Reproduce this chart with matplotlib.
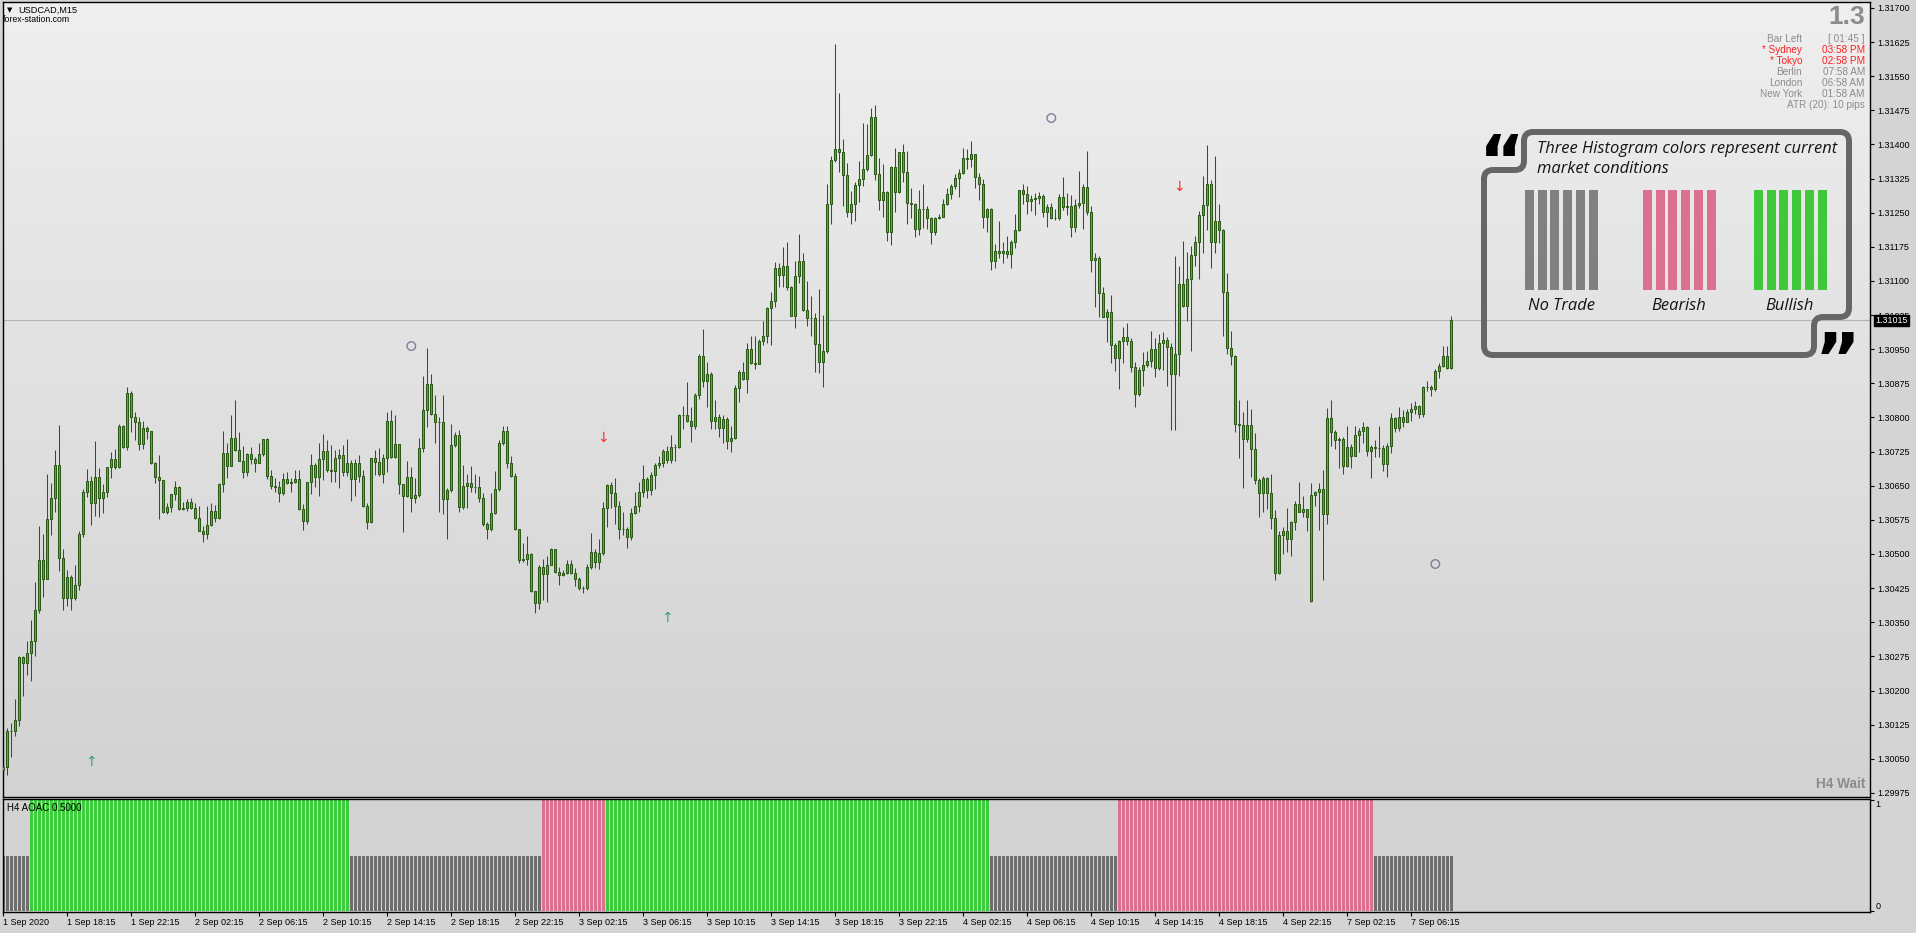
import numpy as np
import matplotlib
matplotlib.use("Agg")
import matplotlib.pyplot as plt
from matplotlib.path import Path
from matplotlib.patches import PathPatch, Rectangle
from matplotlib.colors import LinearSegmentedColormap

plt.rcParams["font.family"] = ["Liberation Sans", "DejaVu Sans"]

# ---- data (USDCAD M15) ----
first_open = 1.30026
gap_opens = {327: 1.30397}

closes = [
    1.30033, 1.30111, 1.30111, 1.30135, 1.30273, 1.30260, 1.30283, 1.30308, 1.30377, 1.30487,
    1.30445, 1.30576, 1.30623, 1.30695, 1.30492, 1.30404, 1.30449, 1.30403, 1.30431, 1.30544,
    1.30636, 1.30660, 1.30612, 1.30669, 1.30622, 1.30636, 1.30691, 1.30708, 1.30692, 1.30781,
    1.30735, 1.30853, 1.30800, 1.30791, 1.30741, 1.30776, 1.30771, 1.30701, 1.30670, 1.30662,
    1.30593, 1.30603, 1.30631, 1.30647, 1.30598, 1.30600, 1.30614, 1.30602, 1.30579, 1.30551,
    1.30543, 1.30563, 1.30594, 1.30580, 1.30653, 1.30721, 1.30694, 1.30754, 1.30729, 1.30705,
    1.30680, 1.30720, 1.30708, 1.30701, 1.30720, 1.30752, 1.30672, 1.30650, 1.30648, 1.30633,
    1.30664, 1.30657, 1.30658, 1.30664, 1.30598, 1.30573, 1.30658, 1.30696, 1.30670, 1.30708,
    1.30727, 1.30685, 1.30683, 1.30710, 1.30718, 1.30681, 1.30699, 1.30664, 1.30699, 1.30672,
    1.30606, 1.30570, 1.30710, 1.30702, 1.30675, 1.30710, 1.30792, 1.30714, 1.30741, 1.30653,
    1.30628, 1.30669, 1.30623, 1.30629, 1.30732, 1.30817, 1.30873, 1.30807, 1.30791, 1.30790,
    1.30620, 1.30641, 1.30740, 1.30761, 1.30604, 1.30650, 1.30655, 1.30647, 1.30648, 1.30623,
    1.30565, 1.30554, 1.30590, 1.30642, 1.30743, 1.30771, 1.30699, 1.30672, 1.30555, 1.30487,
    1.30488, 1.30499, 1.30419, 1.30392, 1.30471, 1.30455, 1.30475, 1.30510, 1.30461, 1.30454,
    1.30459, 1.30477, 1.30459, 1.30445, 1.30425, 1.30426, 1.30471, 1.30504, 1.30483, 1.30502,
    1.30602, 1.30651, 1.30635, 1.30606, 1.30554, 1.30554, 1.30537, 1.30589, 1.30605, 1.30636,
    1.30665, 1.30641, 1.30673, 1.30695, 1.30701, 1.30726, 1.30707, 1.30735, 1.30736, 1.30806,
    1.30805, 1.30792, 1.30781, 1.30850, 1.30936, 1.30880, 1.30895, 1.30792, 1.30802, 1.30777,
    1.30796, 1.30748, 1.30754, 1.30864, 1.30899, 1.30884, 1.30951, 1.30920, 1.30918, 1.30969,
    1.30980, 1.31040, 1.31056, 1.31128, 1.31112, 1.31133, 1.31087, 1.31023, 1.31110, 1.31143,
    1.31036, 1.31019, 1.31019, 1.30961, 1.30922, 1.30946, 1.31269, 1.31365, 1.31391, 1.31383,
    1.31332, 1.31251, 1.31270, 1.31311, 1.31323, 1.31346, 1.31376, 1.31461, 1.31334, 1.31277,
    1.31296, 1.31207, 1.31350, 1.31295, 1.31383, 1.31339, 1.31271, 1.31269, 1.31214, 1.31258,
    1.31258, 1.31239, 1.31207, 1.31238, 1.31241, 1.31269, 1.31291, 1.31309, 1.31326, 1.31337,
    1.31370, 1.31369, 1.31378, 1.31329, 1.31313, 1.31241, 1.31258, 1.31143, 1.31166, 1.31161,
    1.31166, 1.31159, 1.31185, 1.31212, 1.31299, 1.31291, 1.31276, 1.31280, 1.31282, 1.31287,
    1.31251, 1.31262, 1.31239, 1.31239, 1.31284, 1.31262, 1.31265, 1.31218, 1.31266, 1.31271,
    1.31306, 1.31251, 1.31146, 1.31150, 1.31073, 1.31020, 1.31031, 1.30959, 1.30930, 1.30969,
    1.30976, 1.30967, 1.30910, 1.30851, 1.30905, 1.30916, 1.30924, 1.30950, 1.30908, 1.30963,
    1.30970, 1.30954, 1.30895, 1.30939, 1.31094, 1.31044, 1.31104, 1.31157, 1.31185, 1.31245,
    1.31267, 1.31313, 1.31185, 1.31232, 1.31212, 1.31075, 1.30952, 1.30934, 1.30785, 1.30784,
    1.30752, 1.30784, 1.30730, 1.30663, 1.30634, 1.30666, 1.30634, 1.30579, 1.30458, 1.30542,
    1.30551, 1.30532, 1.30570, 1.30610, 1.30593, 1.30598, 1.30582, 1.30630, 1.30636, 1.30643,
    1.30587, 1.30798, 1.30767, 1.30751, 1.30753, 1.30694, 1.30736, 1.30716, 1.30762, 1.30770,
    1.30778, 1.30727, 1.30735, 1.30734, 1.30734, 1.30697, 1.30738, 1.30798, 1.30776, 1.30801,
    1.30791, 1.30812, 1.30819, 1.30825, 1.30807, 1.30866, 1.30868, 1.30863, 1.30903, 1.30913,
    1.30936, 1.30908, 1.31015,
]

highs = [
    1.30095, 1.30117, 1.30128, 1.30181, 1.30276, 1.30276, 1.30308, 1.30355, 1.30439, 1.30562,
    1.30544, 1.30676, 1.30657, 1.30729, 1.30784, 1.30510, 1.30465, 1.30454, 1.30476, 1.30550,
    1.30643, 1.30687, 1.30672, 1.30749, 1.30688, 1.30653, 1.30692, 1.30724, 1.30731, 1.30786,
    1.30784, 1.30866, 1.30858, 1.30812, 1.30801, 1.30792, 1.30782, 1.30771, 1.30703, 1.30718,
    1.30663, 1.30613, 1.30632, 1.30661, 1.30650, 1.30614, 1.30620, 1.30623, 1.30613, 1.30606,
    1.30562, 1.30606, 1.30612, 1.30608, 1.30655, 1.30771, 1.30745, 1.30806, 1.30839, 1.30768,
    1.30738, 1.30721, 1.30735, 1.30713, 1.30743, 1.30753, 1.30754, 1.30685, 1.30666, 1.30661,
    1.30677, 1.30681, 1.30666, 1.30685, 1.30685, 1.30610, 1.30659, 1.30719, 1.30699, 1.30745,
    1.30764, 1.30751, 1.30740, 1.30729, 1.30731, 1.30740, 1.30753, 1.30707, 1.30708, 1.30717,
    1.30685, 1.30612, 1.30712, 1.30729, 1.30732, 1.30720, 1.30813, 1.30817, 1.30806, 1.30741,
    1.30653, 1.30705, 1.30692, 1.30668, 1.30754, 1.30891, 1.30952, 1.30895, 1.30850, 1.30800,
    1.30850, 1.30645, 1.30786, 1.30768, 1.30773, 1.30696, 1.30676, 1.30694, 1.30675, 1.30672,
    1.30634, 1.30571, 1.30634, 1.30683, 1.30751, 1.30781, 1.30781, 1.30716, 1.30677, 1.30554,
    1.30524, 1.30540, 1.30503, 1.30419, 1.30476, 1.30488, 1.30496, 1.30513, 1.30512, 1.30471,
    1.30464, 1.30487, 1.30487, 1.30470, 1.30449, 1.30430, 1.30477, 1.30546, 1.30512, 1.30533,
    1.30614, 1.30653, 1.30659, 1.30668, 1.30616, 1.30593, 1.30559, 1.30600, 1.30636, 1.30659,
    1.30695, 1.30670, 1.30680, 1.30701, 1.30716, 1.30731, 1.30738, 1.30762, 1.30742, 1.30807,
    1.30826, 1.30879, 1.30823, 1.30854, 1.30939, 1.30994, 1.30922, 1.30901, 1.30839, 1.30807,
    1.30806, 1.30802, 1.30782, 1.30872, 1.30905, 1.30922, 1.30964, 1.30978, 1.30978, 1.30972,
    1.31013, 1.31042, 1.31075, 1.31141, 1.31139, 1.31174, 1.31186, 1.31089, 1.31143, 1.31203,
    1.31161, 1.31099, 1.31066, 1.31030, 1.31083, 1.31026, 1.31314, 1.31375, 1.31621, 1.31514,
    1.31412, 1.31360, 1.31298, 1.31317, 1.31364, 1.31447, 1.31445, 1.31480, 1.31487, 1.31371,
    1.31356, 1.31298, 1.31353, 1.31393, 1.31384, 1.31401, 1.31386, 1.31304, 1.31272, 1.31300,
    1.31313, 1.31265, 1.31241, 1.31241, 1.31247, 1.31280, 1.31304, 1.31313, 1.31334, 1.31345,
    1.31393, 1.31390, 1.31408, 1.31379, 1.31337, 1.31324, 1.31260, 1.31260, 1.31181, 1.31232,
    1.31185, 1.31199, 1.31189, 1.31247, 1.31300, 1.31313, 1.31309, 1.31289, 1.31294, 1.31296,
    1.31291, 1.31269, 1.31272, 1.31258, 1.31291, 1.31329, 1.31294, 1.31289, 1.31280, 1.31342,
    1.31313, 1.31386, 1.31265, 1.31162, 1.31155, 1.31086, 1.31038, 1.31069, 1.30963, 1.30970,
    1.30998, 1.31007, 1.30974, 1.30923, 1.30912, 1.30943, 1.30946, 1.30990, 1.30974, 1.30983,
    1.30987, 1.30976, 1.30963, 1.31155, 1.31132, 1.31188, 1.31163, 1.31177, 1.31199, 1.31254,
    1.31331, 1.31399, 1.31322, 1.31375, 1.31269, 1.31214, 1.31117, 1.30990, 1.30938, 1.30839,
    1.30811, 1.30839, 1.30818, 1.30765, 1.30666, 1.30672, 1.30670, 1.30676, 1.30597, 1.30551,
    1.30559, 1.30602, 1.30573, 1.30617, 1.30659, 1.30628, 1.30598, 1.30657, 1.30639, 1.30657,
    1.30685, 1.30820, 1.30839, 1.30773, 1.30758, 1.30758, 1.30781, 1.30742, 1.30781, 1.30776,
    1.30790, 1.30781, 1.30740, 1.30751, 1.30781, 1.30740, 1.30743, 1.30809, 1.30802, 1.30824,
    1.30817, 1.30818, 1.30831, 1.30836, 1.30828, 1.30870, 1.30880, 1.30871, 1.30906, 1.30919,
    1.30957, 1.30957, 1.31023,
]

lows = [
    1.30011, 1.30015, 1.30053, 1.30099, 1.30122, 1.30188, 1.30234, 1.30221, 1.30275, 1.30371,
    1.30406, 1.30447, 1.30542, 1.30593, 1.30463, 1.30376, 1.30386, 1.30376, 1.30399, 1.30421,
    1.30538, 1.30626, 1.30564, 1.30584, 1.30582, 1.30591, 1.30626, 1.30668, 1.30686, 1.30690,
    1.30732, 1.30729, 1.30768, 1.30751, 1.30729, 1.30731, 1.30753, 1.30697, 1.30657, 1.30577,
    1.30590, 1.30588, 1.30593, 1.30619, 1.30597, 1.30597, 1.30595, 1.30598, 1.30577, 1.30550,
    1.30527, 1.30534, 1.30562, 1.30571, 1.30577, 1.30637, 1.30668, 1.30694, 1.30727, 1.30704,
    1.30668, 1.30672, 1.30698, 1.30680, 1.30699, 1.30716, 1.30664, 1.30642, 1.30637, 1.30615,
    1.30630, 1.30654, 1.30637, 1.30655, 1.30597, 1.30553, 1.30566, 1.30632, 1.30648, 1.30628,
    1.30663, 1.30681, 1.30659, 1.30659, 1.30644, 1.30672, 1.30672, 1.30617, 1.30628, 1.30659,
    1.30603, 1.30555, 1.30569, 1.30674, 1.30672, 1.30655, 1.30680, 1.30710, 1.30710, 1.30632,
    1.30548, 1.30626, 1.30593, 1.30613, 1.30626, 1.30725, 1.30780, 1.30806, 1.30745, 1.30593,
    1.30587, 1.30532, 1.30637, 1.30736, 1.30593, 1.30599, 1.30602, 1.30637, 1.30634, 1.30615,
    1.30562, 1.30532, 1.30551, 1.30588, 1.30639, 1.30740, 1.30688, 1.30670, 1.30553, 1.30480,
    1.30482, 1.30476, 1.30417, 1.30370, 1.30379, 1.30399, 1.30395, 1.30481, 1.30459, 1.30432,
    1.30452, 1.30456, 1.30456, 1.30430, 1.30421, 1.30414, 1.30421, 1.30468, 1.30469, 1.30468,
    1.30498, 1.30560, 1.30602, 1.30567, 1.30534, 1.30542, 1.30513, 1.30531, 1.30587, 1.30592,
    1.30626, 1.30622, 1.30630, 1.30643, 1.30690, 1.30692, 1.30699, 1.30701, 1.30705, 1.30732,
    1.30774, 1.30789, 1.30746, 1.30774, 1.30841, 1.30868, 1.30822, 1.30775, 1.30774, 1.30757,
    1.30744, 1.30730, 1.30724, 1.30753, 1.30835, 1.30883, 1.30854, 1.30918, 1.30907, 1.30917,
    1.30959, 1.30964, 1.30959, 1.31042, 1.31087, 1.31087, 1.31081, 1.31022, 1.30996, 1.31096,
    1.31033, 1.31001, 1.30978, 1.30901, 1.30897, 1.30866, 1.30941, 1.31226, 1.31362, 1.31340,
    1.31265, 1.31240, 1.31226, 1.31232, 1.31273, 1.31308, 1.31342, 1.31375, 1.31321, 1.31256,
    1.31241, 1.31188, 1.31179, 1.31252, 1.31293, 1.31318, 1.31225, 1.31238, 1.31197, 1.31200,
    1.31217, 1.31214, 1.31181, 1.31200, 1.31236, 1.31241, 1.31267, 1.31280, 1.31302, 1.31284,
    1.31335, 1.31346, 1.31351, 1.31304, 1.31277, 1.31217, 1.31207, 1.31123, 1.31129, 1.31151,
    1.31140, 1.31150, 1.31129, 1.31173, 1.31210, 1.31269, 1.31247, 1.31254, 1.31244, 1.31269,
    1.31241, 1.31219, 1.31236, 1.31233, 1.31234, 1.31256, 1.31244, 1.31197, 1.31207, 1.31261,
    1.31214, 1.31244, 1.31119, 1.31042, 1.31020, 1.31020, 1.30965, 1.30919, 1.30903, 1.30862,
    1.30919, 1.30959, 1.30899, 1.30824, 1.30847, 1.30870, 1.30910, 1.30910, 1.30888, 1.30905,
    1.30905, 1.30870, 1.30773, 1.30773, 1.30892, 1.31042, 1.31013, 1.30945, 1.31133, 1.31104,
    1.31161, 1.31212, 1.31128, 1.31161, 1.31184, 1.30978, 1.30940, 1.30916, 1.30767, 1.30712,
    1.30645, 1.30747, 1.30670, 1.30654, 1.30582, 1.30592, 1.30599, 1.30554, 1.30442, 1.30456,
    1.30499, 1.30505, 1.30496, 1.30553, 1.30592, 1.30582, 1.30551, 1.30395, 1.30606, 1.30553,
    1.30442, 1.30565, 1.30738, 1.30731, 1.30688, 1.30675, 1.30691, 1.30688, 1.30716, 1.30725,
    1.30743, 1.30716, 1.30666, 1.30714, 1.30714, 1.30683, 1.30669, 1.30721, 1.30769, 1.30771,
    1.30778, 1.30789, 1.30793, 1.30807, 1.30798, 1.30802, 1.30859, 1.30848, 1.30858, 1.30886,
    1.30910, 1.30907, 1.30907,
]

current_price = 1.31015

# H4 AOAC histogram: runs of (state, number of bars)
run_states = ["wait", "bull", "wait", "bear", "bull", "wait", "bear", "wait"]
run_lengths = [7, 80, 48, 16, 96, 32, 64, 20]
state_level = {"wait": 0.5, "bull": 1.0, "bear": 1.0}

# signal markers (bar index, price)
circle_idx = [102, 262, 358]
circle_px = [1.30957, 1.31458, 1.30478]
down_idx = [150, 294]
down_px = [1.30754, 1.31307]
up_idx = [22, 166]
up_px = [1.30044, 1.30360]

tick_idx = [0, 16, 32, 48, 64, 80, 96, 112, 128, 144, 160, 176, 192, 208, 224,
            240, 256, 272, 288, 304, 320, 336, 352]
tick_labels = ["1 Sep 2020", "1 Sep 18:15", "1 Sep 22:15", "2 Sep 02:15", "2 Sep 06:15",
               "2 Sep 10:15", "2 Sep 14:15", "2 Sep 18:15", "2 Sep 22:15", "3 Sep 02:15",
               "3 Sep 06:15", "3 Sep 10:15", "3 Sep 14:15", "3 Sep 18:15", "3 Sep 22:15",
               "4 Sep 02:15", "4 Sep 06:15", "4 Sep 10:15", "4 Sep 14:15", "4 Sep 18:15",
               "4 Sep 22:15", "7 Sep 02:15", "7 Sep 06:15"]

info_names = ["Bar Left", "* Sydney", "* Tokyo", "Berlin", "London", "New York"]
info_values = ["[ 01:45 ]", "03:58 PM", "02:58 PM", "07:58 AM", "06:58 AM", "01:58 AM"]
info_red = [False, True, True, False, False, False]

# ---- colours ----
BULL = "#3cbe32"
BEAR = "#cd6e4e"
EDGE = "#2a5a16"
HIST_COL = {"wait": "#6e6e6e", "bull": "#3ccc3c", "bear": "#dc7090"}
GREY_TXT = "#8c8c8c"

W, H = 1916, 933
fig = plt.figure(figsize=(W / 100, H / 100), dpi=100)
fig.patch.set_facecolor("#d4d4d4")


def fx(px):
    return px / W


def fy(py):
    return 1 - py / H


x_left = (2.5 - 3.3) / 4
x_right = (1870 - 3.3) / 4

# ---- price pane ----
ax = fig.add_axes([fx(2.5), fy(797), fx(1870) - fx(2.5), fy(2) - fy(797)])
ylo, yhi = 1.29966, 1.31713
ax.set_xlim(x_left, x_right)
ax.set_ylim(ylo, yhi)
bg = LinearSegmentedColormap.from_list("bg", ["#efefef", "#d2d2d2"])
ax.imshow(np.linspace(0, 1, 256).reshape(-1, 1), cmap=bg, aspect="auto",
          extent=[x_left, x_right, ylo, yhi], origin="upper", zorder=0)

closes = np.array(closes)
highs = np.array(highs)
lows = np.array(lows)
opens = np.r_[first_open, closes[:-1]]
for k, v in gap_opens.items():
    opens[k] = v
highs = np.maximum(highs, np.maximum(opens, closes))
lows = np.minimum(lows, np.minimum(opens, closes))
idx = np.arange(len(closes))

ax.axhline(current_price, color="#b4b4b4", lw=0.8, zorder=1)
ax.vlines(idx, lows, highs, color=EDGE, lw=0.75, zorder=2)
body_lo = np.minimum(opens, closes)
body_h = np.abs(closes - opens)
cols = [BULL if c >= o else BEAR for o, c in zip(opens, closes)]
ax.bar(idx, body_h, bottom=body_lo, width=0.5, color=cols, edgecolor=EDGE,
       linewidth=0.75, zorder=3)

ax.scatter(circle_idx, circle_px, s=38, facecolors="none", edgecolors="#7c8294",
           linewidths=1.0, zorder=4)
for i, p in zip(down_idx, down_px):
    ax.text(i, p, "\u2193", color="#ff2a2a", fontsize=10, ha="center", va="center",
            zorder=4, family=["DejaVu Sans"])
for i, p in zip(up_idx, up_px):
    ax.text(i, p, "\u2191", color="#34a37a", fontsize=10, ha="center", va="center",
            zorder=4, family=["DejaVu Sans"])

yt = np.round(np.arange(1.29975, 1.31701, 0.00075), 5)
ax.set_yticks(yt)
ax.set_yticklabels([f"{v:.5f}" for v in yt])
ax.yaxis.tick_right()
ax.tick_params(axis="y", length=3, width=0.8, pad=2, labelsize=6.5, colors="black")
ax.set_xticks([])
for s in ax.spines.values():
    s.set_linewidth(1.0)
    s.set_color("black")

# ---- indicator pane ----
ax2 = fig.add_axes([fx(2.5), fy(912), fx(1870) - fx(2.5), fy(799) - fy(912)])
ax2.set_facecolor("#d3d3d3")
ax2.set_xlim(x_left, x_right)
ax2.set_ylim(-0.01, 1.01)
states = np.repeat(run_states, run_lengths)
levels = [state_level[s] for s in states]
ax2.bar(np.arange(len(states)), levels, width=0.75,
        color=[HIST_COL[s] for s in states], linewidth=0)
ax2.set_xticks(tick_idx)
ax2.set_xticklabels(tick_labels, ha="left")
ax2.tick_params(axis="x", length=3, width=0.8, pad=1.5, labelsize=6.5)
ax2.set_yticks([0, 1])
ax2.set_yticklabels([])
ax2.yaxis.tick_right()
ax2.tick_params(axis="y", length=3, width=0.8)
ax2.text(1.003, 0.95, "1", transform=ax2.transAxes, fontsize=6.5, va="center", ha="left")
ax2.text(1.003, 0.05, "0", transform=ax2.transAxes, fontsize=6.5, va="center", ha="left")
ax2.text(0.0025, 0.92, "H4 AOAC 0.5000", transform=ax2.transAxes, fontsize=7,
         va="center", ha="left", color="black")
for s in ax2.spines.values():
    s.set_linewidth(1.0)
    s.set_color("black")

# ---- overlay texts ----
fig.text(fx(7), fy(10), "\u25bc", fontsize=5, va="center", ha="left",
         family=["DejaVu Sans"])
fig.text(fx(18), fy(10), "USDCAD,M15", fontsize=6.6, va="center", ha="left")
fig.text(fx(3), fy(19.5), "forex-station.com", fontsize=6.3, va="center", ha="left")

fig.text(fx(1865), fy(17), "1.3", fontsize=19, fontweight="bold", color=GREY_TXT,
         va="center", ha="right")
for k, (n, v, red) in enumerate(zip(info_names, info_values, info_red)):
    c = "#ff2020" if red else GREY_TXT
    yy = 39 + k * 11
    fig.text(fx(1802), fy(yy), n, fontsize=7.2, color=c, va="center", ha="right")
    fig.text(fx(1865), fy(yy), v, fontsize=7.2, color=c, va="center", ha="right")
fig.text(fx(1865), fy(105), "ATR (20): 10 pips", fontsize=7.2, color=GREY_TXT,
         va="center", ha="right")
fig.text(fx(1865), fy(784), "H4 Wait", fontsize=9.8, fontweight="bold",
         color=GREY_TXT, va="center", ha="right")

fig.text(fx(1875), fy(320.5), f"{current_price:.5f}", fontsize=6.5, color="white",
         va="center", ha="left",
         bbox=dict(boxstyle="square,pad=0.15", fc="black", ec="black"))

# ---- legend call-out ----


def rounded_path(pts, r):
    verts, codes = [], []
    n = len(pts)
    for k in range(n):
        p0 = np.array(pts[k - 1], float)
        p1 = np.array(pts[k], float)
        p2 = np.array(pts[(k + 1) % n], float)
        d1 = (p0 - p1) / np.linalg.norm(p0 - p1)
        d2 = (p2 - p1) / np.linalg.norm(p2 - p1)
        verts += [p1 + d1 * r, p1, p1 + d2 * r]
        codes += [Path.MOVETO if k == 0 else Path.LINETO, Path.CURVE3, Path.CURVE3]
    verts.append(verts[0])
    codes.append(Path.CLOSEPOLY)
    verts = [(fx(x), fy(y)) for x, y in verts]
    return Path(verts, codes)


frame_pts = [(1524, 132), (1849, 132), (1849, 317), (1814, 317), (1814, 355),
             (1484, 355), (1484, 170), (1524, 170)]
fig.add_artist(PathPatch(rounded_path(frame_pts, 9), transform=fig.transFigure,
                         fill=False, ec="#666666", lw=4.3, joinstyle="round"))

fig.text(fx(1502), fy(165), "\u201c", fontsize=50, fontweight="bold", color="black",
         va="center", ha="center", family=["DejaVu Sans"])
fig.text(fx(1837), fy(364), "\u201d", fontsize=50, fontweight="bold", color="black",
         va="center", ha="center", family=["DejaVu Sans"])

fig.text(fx(1537), fy(149), "Three Histogram colors represent current", fontsize=11.9,
         style="italic", color="#141414", va="center", ha="left",
         family=["Open Sans", "DejaVu Sans"])
fig.text(fx(1537), fy(169), "market conditions", fontsize=11.9, style="italic",
         color="#141414", va="center", ha="left", family=["Open Sans", "DejaVu Sans"])

legend_names = ["No Trade", "Bearish", "Bullish"]
legend_cols = ["#808080", "#dc7090", "#40c83c"]
legend_x0 = [1525, 1643, 1754]
for name, c, x0 in zip(legend_names, legend_cols, legend_x0):
    for b in range(6):
        fig.add_artist(Rectangle((fx(x0 + b * 12.7), fy(290)), fx(9), fy(190) - fy(290),
                                 transform=fig.transFigure, fc=c, ec="none"))
    fig.text(fx(x0 + 36), fy(306), name, fontsize=11.9, style="italic", color="#141414",
             va="center", ha="center", family=["Open Sans", "DejaVu Sans"])

fig.savefig("out.png", dpi=100, facecolor=fig.get_facecolor())
